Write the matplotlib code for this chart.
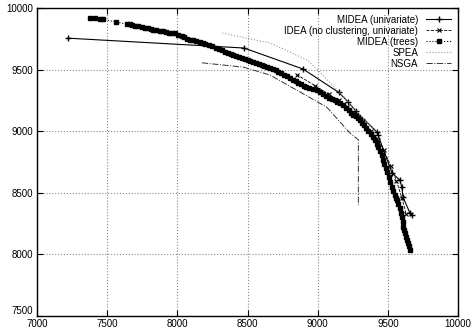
import matplotlib.pyplot as plt

# MIDEA (univariate)
uni_x = [7220, 8475, 8895, 9150, 9215, 9275, 9420, 9430, 9530, 9585, 9600, 9608, 9658, 9672]
uni_y = [9755, 9675, 9505, 9315, 9240, 9160, 8995, 8970, 8660, 8605, 8545, 8465, 8335, 8320]

# IDEA (no clustering, univariate)
idea_x = [8850, 8980, 9080, 9150, 9210, 9260, 9320, 9380, 9430, 9470, 9520, 9560, 9600, 9630]
idea_y = [9460, 9370, 9300, 9250, 9200, 9150, 9080, 9000, 8930, 8850, 8720, 8600, 8460, 8330]

# MIDEA (trees)
tree_x = [7380, 7410, 7450, 7470, 7560, 7640, 7660, 7680, 7700, 7720, 7745, 7770, 7790,
          7810, 7830, 7850, 7875, 7900, 7920, 7940, 7960, 7985, 8005, 8030, 8050,
          8070, 8090, 8110, 8135, 8160, 8180, 8200, 8225, 8250, 8275, 8300, 8320,
          8340, 8360, 8380, 8400, 8420, 8440, 8460, 8480, 8500, 8520, 8540, 8560,
          8580, 8600, 8620, 8640, 8660, 8680, 8700, 8720, 8740, 8760, 8780, 8800,
          8825, 8845, 8860, 8880, 8900, 8920, 8940, 8965, 8995, 9015, 9040, 9060,
          9080, 9100, 9120, 9140, 9160, 9180, 9200, 9220, 9240, 9255, 9270, 9285,
          9300, 9315, 9330, 9345, 9360, 9378, 9395, 9408, 9420, 9432, 9445, 9455,
          9465, 9475, 9485, 9495, 9505, 9518, 9530, 9540, 9550, 9558, 9565, 9575,
          9585, 9593, 9600, 9605, 9610, 9618, 9625, 9631, 9637, 9642, 9648, 9659]
tree_y = [9920, 9915, 9912, 9908, 9886, 9870, 9866, 9862, 9857, 9852, 9846, 9840, 9835,
          9830, 9825, 9820, 9815, 9810, 9805, 9800, 9798, 9795, 9783, 9772, 9761,
          9750, 9744, 9738, 9731, 9725, 9718, 9710, 9700, 9690, 9678, 9665, 9655,
          9645, 9636, 9628, 9619, 9610, 9600, 9590, 9584, 9578, 9569, 9560, 9552,
          9545, 9538, 9530, 9522, 9515, 9505, 9495, 9483, 9470, 9458, 9445, 9430,
          9416, 9405, 9395, 9382, 9370, 9360, 9350, 9342, 9335, 9318, 9300, 9285,
          9270, 9260, 9250, 9240, 9230, 9210, 9190, 9170, 9150, 9135, 9120, 9105,
          9090, 9070, 9050, 9025, 9000, 8978, 8955, 8928, 8900, 8870, 8840, 8805,
          8770, 8735, 8700, 8665, 8630, 8590, 8550, 8515, 8480, 8460, 8440, 8410,
          8380, 8340, 8300, 8260, 8220, 8195, 8170, 8143, 8115, 8092, 8070, 8035]

# SPEA
spea_x = [8320, 8660, 8925, 9000, 9140, 9350, 9430]
spea_y = [9797, 9716, 9578, 9497, 9334, 9075, 8995]

# NSGA
nsga_x = [8175, 8470, 8660, 9000, 9065, 9230, 9290, 9290]
nsga_y = [9555, 9520, 9456, 9237, 9195, 8985, 8930, 8400]

plt.rcParams['font.family'] = ['Liberation Sans', 'DejaVu Sans']
plt.rcParams['font.size'] = 7

fig = plt.figure(figsize=(4.71, 3.32), dpi=100)
ax = fig.add_axes([0.0786, 0.048, 0.8938, 0.928])

ax.plot(uni_x, uni_y, color='black', linestyle='-', linewidth=0.8,
        marker='+', markersize=5, markeredgewidth=1.0, label='MIDEA (univariate)')
ax.plot(idea_x, idea_y, color='black', linestyle='--', linewidth=0.6,
        marker='x', markersize=3, markeredgewidth=0.8, label='IDEA (no clustering, univariate)')
ax.plot(tree_x, tree_y, color='black', linestyle=':', linewidth=0.8,
        marker='s', markersize=3.4, label='MIDEA (trees)')
ax.plot(spea_x, spea_y, color='#999999', linestyle=':', linewidth=0.8, label='SPEA')
ax.plot(nsga_x, nsga_y, color='#333333', linestyle='-.', linewidth=0.7, label='NSGA')

ax.set_xlim(7000, 10000)
ax.set_ylim(7500, 10000)
ax.set_xticks(range(7000, 10001, 500))
ax.set_yticks(range(7500, 10001, 500))
ax.grid(True, color='#888888', linestyle=':', linewidth=0.8)
ax.tick_params(direction='in', top=True, right=True, length=4, width=0.8, pad=2)
ax.tick_params(axis='y', pad=3)
for s in ax.spines.values():
    s.set_linewidth(1.0)

# lift the lowest y label a little so it clears the first x label
fig.canvas.draw()
ax.get_yticklabels()[0].set_va('bottom')

ax.legend(loc='upper right', frameon=False, markerfirst=False, fontsize=7,
          handlelength=2.6, labelspacing=0.1, borderaxespad=0.3, handletextpad=0.8)

plt.savefig('out.png', dpi=100)
